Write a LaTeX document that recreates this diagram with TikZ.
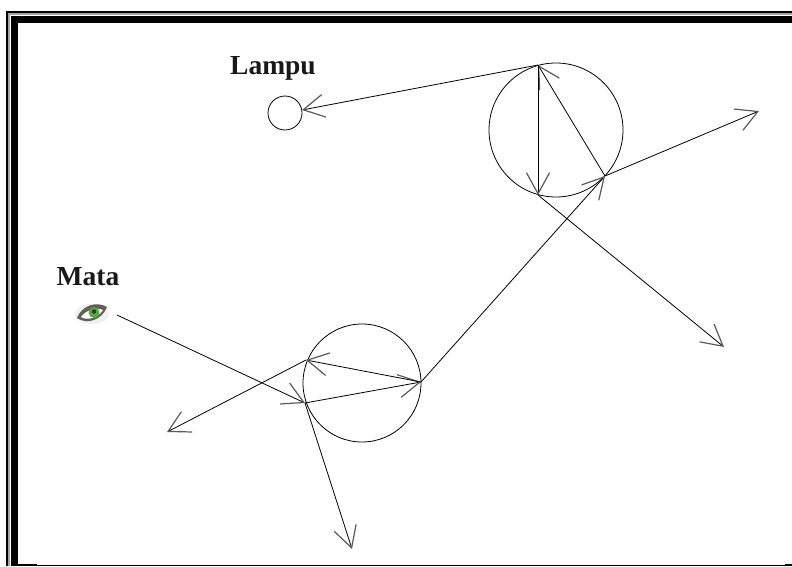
\documentclass[tikz,border=0pt]{standalone}
\usepackage{fontspec}
\setmainfont{Liberation Serif}
\usetikzlibrary{
    arrows.meta,
    positioning,
    calc
}
\definecolor{tipgray}{gray}{0.35}
\definecolor{eyelid}{HTML}{5E6250}
\definecolor{iris}{HTML}{58A84A}
\tikzset{
    mirror/.style={
        draw,
        circle,
        line width=0.8pt,
        inner sep=0pt
    }
}
\tikzset{
    ray/.style={
        draw=black,
        line width=0.8pt,
        -{Straight Barb[length=21pt,width=23pt,color=tipgray,line width=1.2pt]}
    }
}
\tikzset{
    caption/.style={
        font=\fontsize{27.5pt}{30pt}\selectfont\bfseries,
        text=black!90,
        inner sep=0pt,
        anchor=base
    }
}
\begin{document}
\begin{tikzpicture}[
    x=1pt,
    y=-1pt
]

\useasboundingbox (0,0) rectangle (792,566);

% ------------------------------------------------------------
% Frame
% ------------------------------------------------------------

\fill[black!35] (8,13) rectangle (792,14.5);
\fill[black!35] (8,13) rectangle (9.5,566);
\fill[black] (6,11) rectangle (792,13);
\fill[black] (6,11) rectangle (8,566);
\fill[black] (10.5,16) rectangle (792,23);
\fill[black] (10.5,16) rectangle (18,566);
\fill[black] (18,565) rectangle (792,566);
\fill[black] (18,564) rectangle (37,566);
\fill[black] (785,564) rectangle (792,566);

% ------------------------------------------------------------
% Lamp and eye
% ------------------------------------------------------------

\node[caption] (lampulabel) at (273,74) {Lampu};
\node[mirror, minimum size=34pt] (lampu) at (285,113) {};

\node[caption] (matalabel) at (88,285) {Mata};

\fill[black!6] (92,314) ellipse (17pt and 10pt);
\fill[eyelid] (77,318) .. controls (82,305) and (97,301) .. (107,307)
    .. controls (102,320) and (87,325) .. (77,318);
\fill[white] (81,317) .. controls (86,310) and (96,307) .. (103,310)
    .. controls (98,318) and (87,321) .. (81,317);
\fill[iris] (94,312.5) circle (5.5pt);
\fill[black!80] (94,311.5) circle (2.2pt);

% ------------------------------------------------------------
% Drops
% ------------------------------------------------------------

\node[mirror, minimum size=134pt] (upper) at (556,130) {};
\node[mirror, minimum size=118pt] (lower) at (362,383) {};

% ------------------------------------------------------------
% Ray points
% ------------------------------------------------------------

\coordinate (eye) at (117,315);
\coordinate (lowerA) at (305,403);
\coordinate (lowerB) at (421,382);
\coordinate (lowerC) at (306,360);
\coordinate (upperA) at (605,176);
\coordinate (upperB) at (538,65);
\coordinate (upperC) at (538,195);
\coordinate (lampuend) at (302,110);
\coordinate (endright) at (759,111);
\coordinate (endlowright) at (724,347);
\coordinate (endleft) at (167,432);
\coordinate (endbottom) at (352,549);

% ------------------------------------------------------------
% Rays
% ------------------------------------------------------------

\draw[ray] (eye) -- (lowerA);
\draw[ray] (lowerA) -- (lowerB);
\draw[ray] (lowerB) -- (lowerC);
\draw[ray] (lowerC) -- (endleft);
\draw[ray] (lowerA) -- (endbottom);
\draw[ray] (lowerB) -- (upperA);
\draw[ray] (upperA) -- (upperB);
\draw[ray] (upperA) -- (endright);
\draw[ray] (upperB) -- (lampuend);
\draw[ray] (upperB) -- (upperC);
\draw[ray] (upperC) -- (endlowright);

\end{tikzpicture}
\end{document}
